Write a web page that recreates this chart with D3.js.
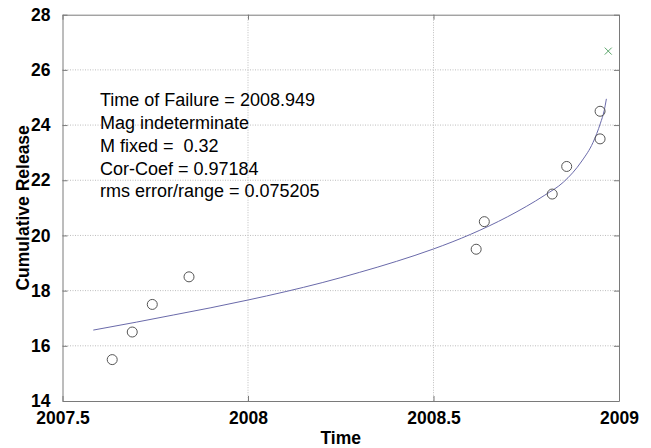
<!DOCTYPE html>
<html>
<head>
<meta charset="utf-8">
<script src="https://cdn.jsdelivr.net/npm/d3@7"></script>
<style>
  body { margin: 0; background: #fff; }
  text { font-family: "Liberation Sans", Arial, sans-serif; }
</style>
</head>
<body>
<div id="chart"></div>
<script>
// observed points (circles)
var obsTime = [2007.634, 2007.688, 2007.742, 2007.841, 2008.615, 2008.637, 2008.820, 2008.859, 2008.949, 2008.949];
var obsRelease = [15.5, 16.5, 17.5, 18.5, 19.5, 20.5, 21.5, 22.5, 23.5, 24.5];

// fitted curve
var fitTime = [2007.583, 2007.7, 2007.8, 2007.9, 2008.0, 2008.1, 2008.2, 2008.3, 2008.4, 2008.5,
               2008.6, 2008.7, 2008.75, 2008.8, 2008.85, 2008.9, 2008.93, 2008.95, 2008.96, 2008.966];
var fitRelease = [16.57, 16.86, 17.12, 17.38, 17.66, 17.96, 18.29, 18.66, 19.06, 19.51,
                  20.04, 20.68, 21.05, 21.46, 21.93, 22.7, 23.37, 24.07, 24.52, 24.95];

// predicted failure point (x marker)
var failTime = [2008.971];
var failRelease = [26.68];

var xTicks = [2007.5, 2008, 2008.5, 2009];
var xTickLabels = ["2007.5", "2008", "2008.5", "2009"];
var yTicks = [14, 16, 18, 20, 22, 24, 26, 28];

var infoLines = [
  "Time of Failure = 2008.949",
  "Mag indeterminate",
  "M fixed =  0.32",
  "Cor-Coef = 0.97184",
  "rms error/range = 0.075205"
];

var margin = {top: 14.7, right: 32, bottom: 47, left: 62.5},
    width = 651 - margin.left - margin.right,
    height = 448 - margin.top - margin.bottom;

var svg = d3.select("#chart")
  .append("svg")
    .attr("width", 651)
    .attr("height", 448)
  .append("g")
    .attr("transform", "translate(" + margin.left + "," + margin.top + ")");

var x = d3.scaleLinear().domain([2007.5, 2009]).range([0, width]);
var y = d3.scaleLinear().domain([14, 28]).range([height, 0]);

// grid
svg.append("g")
  .selectAll("line")
  .data(xTicks.slice(1, -1))
  .enter().append("line")
    .attr("x1", function(d) { return x(d); })
    .attr("x2", function(d) { return x(d); })
    .attr("y1", 0).attr("y2", height)
    .attr("stroke", "#bdbdbd")
    .attr("stroke-dasharray", "1,1.5");
svg.append("g")
  .selectAll("line")
  .data(yTicks.slice(1, -1))
  .enter().append("line")
    .attr("y1", function(d) { return y(d); })
    .attr("y2", function(d) { return y(d); })
    .attr("x1", 0).attr("x2", width)
    .attr("stroke", "#bdbdbd")
    .attr("stroke-dasharray", "1,1.5");

// axes with inward ticks
var axisColor = "#7a7a7a";
function styleAxis(g) {
  g.select(".domain").attr("stroke", axisColor);
  g.selectAll(".tick line").attr("stroke", axisColor);
  g.selectAll(".tick text")
    .attr("fill", "#000")
    .style("font-size", "17.5px")
    .style("font-weight", "bold");
}

svg.append("g")
  .attr("transform", "translate(0," + height + ")")
  .call(d3.axisBottom(x).tickValues(xTicks)
    .tickFormat(function(d, i) { return xTickLabels[i]; })
    .tickSizeInner(-5).tickSizeOuter(0).tickPadding(11))
  .call(styleAxis);

svg.append("g")
  .call(d3.axisLeft(y).tickValues(yTicks).tickFormat(d3.format("d"))
    .tickSizeInner(-5).tickSizeOuter(0).tickPadding(12))
  .call(styleAxis);

svg.append("g")
  .call(d3.axisTop(x).tickValues(xTicks).tickFormat("")
    .tickSizeInner(-5).tickSizeOuter(0))
  .call(styleAxis);

svg.append("g")
  .attr("transform", "translate(" + width + ",0)")
  .call(d3.axisRight(y).tickValues(yTicks).tickFormat("")
    .tickSizeInner(-5).tickSizeOuter(0))
  .call(styleAxis);

// fitted curve
var fit = fitTime.map(function(t, i) { return [t, fitRelease[i]]; });
svg.append("path")
  .datum(fit)
  .attr("fill", "none")
  .attr("stroke", "#6a6aaa")
  .attr("stroke-width", 1)
  .attr("d", d3.line()
    .x(function(d) { return x(d[0]); })
    .y(function(d) { return y(d[1]); })
    .curve(d3.curveMonotoneX));

// observed circles
svg.append("g")
  .selectAll("circle")
  .data(obsTime)
  .enter().append("circle")
    .attr("cx", function(d) { return x(d); })
    .attr("cy", function(d, i) { return y(obsRelease[i]); })
    .attr("r", 5)
    .attr("fill", "none")
    .attr("stroke", "#555")
    .attr("stroke-width", 1);

// failure x marker
var mk = 3.5;
svg.append("g")
  .selectAll("path")
  .data(failTime)
  .enter().append("path")
    .attr("transform", function(d, i) {
      return "translate(" + x(d) + "," + y(failRelease[i]) + ")";
    })
    .attr("d", "M" + (-mk) + "," + (-mk) + "L" + mk + "," + mk + "M" + (-mk) + "," + mk + "L" + mk + "," + (-mk))
    .attr("stroke", "#5aa56a")
    .attr("stroke-width", 1);

// text block
svg.append("g")
  .selectAll("text")
  .data(infoLines)
  .enter().append("text")
    .attr("x", 100 - margin.left)
    .attr("y", function(d, i) { return 106 - margin.top + i * 22.85; })
    .style("font-size", "18px")
    .style("white-space", "pre")
    .attr("fill", "#000")
    .text(function(d) { return d; });

// axis titles
svg.append("text")
  .attr("x", width / 2)
  .attr("y", 444 - margin.top)
  .attr("text-anchor", "middle")
  .style("font-size", "17.5px")
  .style("font-weight", "bold")
  .text("Time");

svg.append("text")
  .attr("transform", "translate(" + (29 - margin.left) + "," + (height / 2) + ") rotate(-90)")
  .attr("text-anchor", "middle")
  .style("font-size", "17.5px")
  .style("font-weight", "bold")
  .text("Cumulative Release");
</script>
</body>
</html>
